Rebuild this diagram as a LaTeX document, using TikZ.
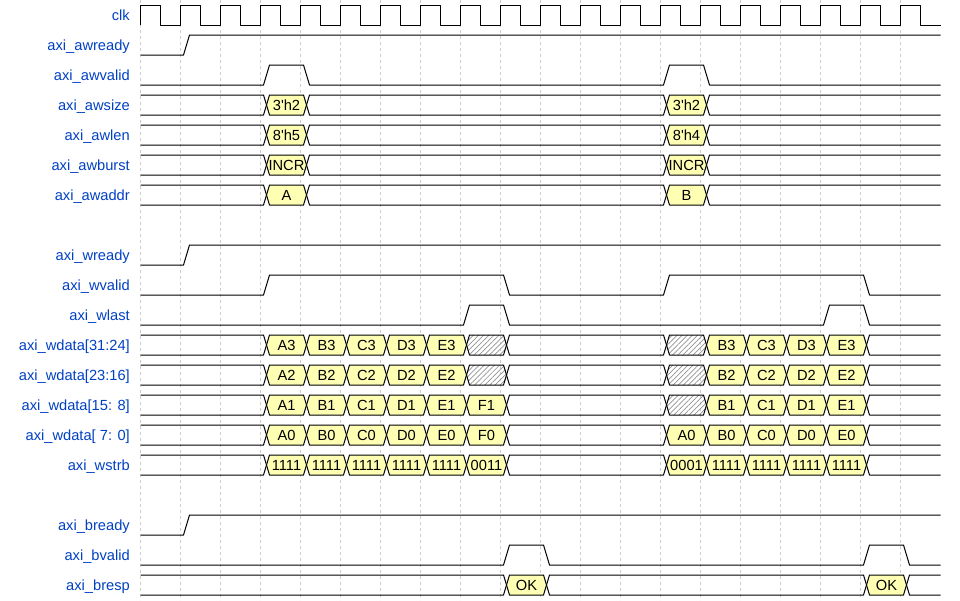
\documentclass[tikz,border=0pt]{standalone}
\usepackage{fontspec}
\setmainfont{Liberation Sans}
\usetikzlibrary{patterns.meta}
\definecolor{lblblue}{HTML}{0041C4}
\definecolor{busyel}{HTML}{FFFFB4}
\definecolor{gridc}{HTML}{CCCCCC}
\tikzset{
  sig/.style={draw=black, line width=1pt, line join=round},
  lbl/.style={anchor=base east, text=lblblue, inner sep=0pt, font=\fontsize{14.67}{16}\selectfont},
  dat/.style={anchor=base, text=black, inner sep=0pt, font=\fontsize{14.67}{16}\selectfont},
  yel/.style={sig, fill=busyel},
  emp/.style={sig},
  hatch/.style={sig, pattern={Lines[angle=45,distance=3.6pt,line width=0.7pt]}, pattern color=gray!85},
  gridln/.style={draw=gridc, line width=0.8pt, dash pattern=on 3pt off 3pt}
}
% a bus segment between transitions ka and kb
\newcommand\bseg[5]{%
  \pgfmathsetmacro\yT{5+30*#1}\pgfmathsetmacro\yB{25+30*#1}\pgfmathsetmacro\yM{15+30*#1}%
  \pgfmathsetmacro\xa{140.5+40*#2}\pgfmathsetmacro\xb{140.5+40*#3}%
  \pgfmathsetmacro\xc{(\xa+\xb)/2+6}%
  \draw[#4] (\xa+6,\yM) -- (\xa+9,\yT) -- (\xb+3,\yT) -- (\xb+6,\yM) -- (\xb+3,\yB) -- (\xa+9,\yB) -- cycle;
  \node[dat] (d#1-#2) at (\xc,\yM+5) {#5};
}
\newcommand\bstart[2]{%
  \pgfmathsetmacro\yT{5+30*#1}\pgfmathsetmacro\yB{25+30*#1}\pgfmathsetmacro\yM{15+30*#1}%
  \pgfmathsetmacro\xb{140.5+40*#2}%
  \draw[sig] (140.5,\yT) -- (\xb+3,\yT) -- (\xb+6,\yM) -- (\xb+3,\yB) -- (140.5,\yB);
}
\newcommand\bend[2]{%
  \pgfmathsetmacro\yT{5+30*#1}\pgfmathsetmacro\yB{25+30*#1}\pgfmathsetmacro\yM{15+30*#1}%
  \pgfmathsetmacro\xa{140.5+40*#2}%
  \draw[sig] (940.5,\yT) -- (\xa+9,\yT) -- (\xa+6,\yM) -- (\xa+9,\yB) -- (940.5,\yB);
}
\newcommand\pulses[2]{%
  \pgfmathsetmacro\yT{5+30*#1}\pgfmathsetmacro\yB{25+30*#1}%
  \draw[sig] (140.5,\yB) \foreach \s/\e in {#2}{ -- ({140.5+40*\s+3},\yB) -- ({140.5+40*\s+9},\yT) -- ({140.5+40*\e+3},\yT) -- ({140.5+40*\e+9},\yB)} -- (940.5,\yB);
}
\newcommand\stepup[2]{%
  \pgfmathsetmacro\yT{5+30*#1}\pgfmathsetmacro\yB{25+30*#1}%
  \draw[sig] (140.5,\yB) -- ({140.5+40*#2+3},\yB) -- ({140.5+40*#2+9},\yT) -- (940.5,\yT);
}
\newcommand\lab[2]{\node[lbl] (l#1) at (130,{15+30*#1+5}) {#2};}
\newcommand\q{\textquotesingle}
\begin{document}
\begin{tikzpicture}[x=1pt,y=-1pt]
\useasboundingbox (0,0) rectangle (960,600);
\fill[white] (0,0) rectangle (960,600);
% grid
\foreach \k in {0,...,19}{\draw[gridln] ({140.5+40*\k},0) -- ({140.5+40*\k},600);}
% labels
\lab{0}{clk}
\lab{1}{axi\_awready}
\lab{2}{axi\_awvalid}
\lab{3}{axi\_awsize}
\lab{4}{axi\_awlen}
\lab{5}{axi\_awburst}
\lab{6}{axi\_awaddr}
\lab{8}{axi\_wready}
\lab{9}{axi\_wvalid}
\lab{10}{axi\_wlast}
\lab{11}{axi\_wdata[31:24]}
\lab{12}{axi\_wdata[23:16]}
\lab{13}{axi\_wdata[15: 8]}
\lab{14}{axi\_wdata[ 7: 0]}
\lab{15}{axi\_wstrb}
\lab{17}{axi\_bready}
\lab{18}{axi\_bvalid}
\lab{19}{axi\_bresp}
% clock
\draw[sig] (140.5,25) \foreach \k in {0,...,19}{ -- ({140.5+40*\k},5) -- ({160.5+40*\k},5) -- ({160.5+40*\k},25) -- ({180.5+40*\k},25)};
% write address channel
\stepup{1}{1}
\pulses{2}{3/4,13/14}
\bstart{3}{3}\bseg{3}{3}{4}{yel}{3\q h2}\bseg{3}{4}{13}{emp}{}\bseg{3}{13}{14}{yel}{3\q h2}\bend{3}{14}
\bstart{4}{3}\bseg{4}{3}{4}{yel}{8\q h5}\bseg{4}{4}{13}{emp}{}\bseg{4}{13}{14}{yel}{8\q h4}\bend{4}{14}
\bstart{5}{3}\bseg{5}{3}{4}{yel}{INCR}\bseg{5}{4}{13}{emp}{}\bseg{5}{13}{14}{yel}{INCR}\bend{5}{14}
\bstart{6}{3}\bseg{6}{3}{4}{yel}{A}\bseg{6}{4}{13}{emp}{}\bseg{6}{13}{14}{yel}{B}\bend{6}{14}
% write data channel
\stepup{8}{1}
\pulses{9}{3/9,13/18}
\pulses{10}{8/9,17/18}
% wdata[31:24]
\bstart{11}{3}
\bseg{11}{3}{4}{yel}{A3}\bseg{11}{4}{5}{yel}{B3}\bseg{11}{5}{6}{yel}{C3}\bseg{11}{6}{7}{yel}{D3}\bseg{11}{7}{8}{yel}{E3}
\bseg{11}{8}{9}{hatch}{}\bseg{11}{9}{13}{emp}{}\bseg{11}{13}{14}{hatch}{}
\bseg{11}{14}{15}{yel}{B3}\bseg{11}{15}{16}{yel}{C3}\bseg{11}{16}{17}{yel}{D3}\bseg{11}{17}{18}{yel}{E3}
\bend{11}{18}
% wdata[23:16]
\bstart{12}{3}
\bseg{12}{3}{4}{yel}{A2}\bseg{12}{4}{5}{yel}{B2}\bseg{12}{5}{6}{yel}{C2}\bseg{12}{6}{7}{yel}{D2}\bseg{12}{7}{8}{yel}{E2}
\bseg{12}{8}{9}{hatch}{}\bseg{12}{9}{13}{emp}{}\bseg{12}{13}{14}{hatch}{}
\bseg{12}{14}{15}{yel}{B2}\bseg{12}{15}{16}{yel}{C2}\bseg{12}{16}{17}{yel}{D2}\bseg{12}{17}{18}{yel}{E2}
\bend{12}{18}
% wdata[15:8]
\bstart{13}{3}
\bseg{13}{3}{4}{yel}{A1}\bseg{13}{4}{5}{yel}{B1}\bseg{13}{5}{6}{yel}{C1}\bseg{13}{6}{7}{yel}{D1}\bseg{13}{7}{8}{yel}{E1}
\bseg{13}{8}{9}{yel}{F1}\bseg{13}{9}{13}{emp}{}\bseg{13}{13}{14}{hatch}{}
\bseg{13}{14}{15}{yel}{B1}\bseg{13}{15}{16}{yel}{C1}\bseg{13}{16}{17}{yel}{D1}\bseg{13}{17}{18}{yel}{E1}
\bend{13}{18}
% wdata[7:0]
\bstart{14}{3}
\bseg{14}{3}{4}{yel}{A0}\bseg{14}{4}{5}{yel}{B0}\bseg{14}{5}{6}{yel}{C0}\bseg{14}{6}{7}{yel}{D0}\bseg{14}{7}{8}{yel}{E0}
\bseg{14}{8}{9}{yel}{F0}\bseg{14}{9}{13}{emp}{}\bseg{14}{13}{14}{yel}{A0}
\bseg{14}{14}{15}{yel}{B0}\bseg{14}{15}{16}{yel}{C0}\bseg{14}{16}{17}{yel}{D0}\bseg{14}{17}{18}{yel}{E0}
\bend{14}{18}
% wstrb
\bstart{15}{3}
\bseg{15}{3}{4}{yel}{1111}\bseg{15}{4}{5}{yel}{1111}\bseg{15}{5}{6}{yel}{1111}\bseg{15}{6}{7}{yel}{1111}\bseg{15}{7}{8}{yel}{1111}
\bseg{15}{8}{9}{yel}{0011}\bseg{15}{9}{13}{emp}{}\bseg{15}{13}{14}{yel}{0001}
\bseg{15}{14}{15}{yel}{1111}\bseg{15}{15}{16}{yel}{1111}\bseg{15}{16}{17}{yel}{1111}\bseg{15}{17}{18}{yel}{1111}
\bend{15}{18}
% write response channel
\stepup{17}{1}
\pulses{18}{9/10,18/19}
\bstart{19}{9}\bseg{19}{9}{10}{yel}{OK}\bseg{19}{10}{18}{emp}{}\bseg{19}{18}{19}{yel}{OK}\bend{19}{19}
\end{tikzpicture}
\end{document}
